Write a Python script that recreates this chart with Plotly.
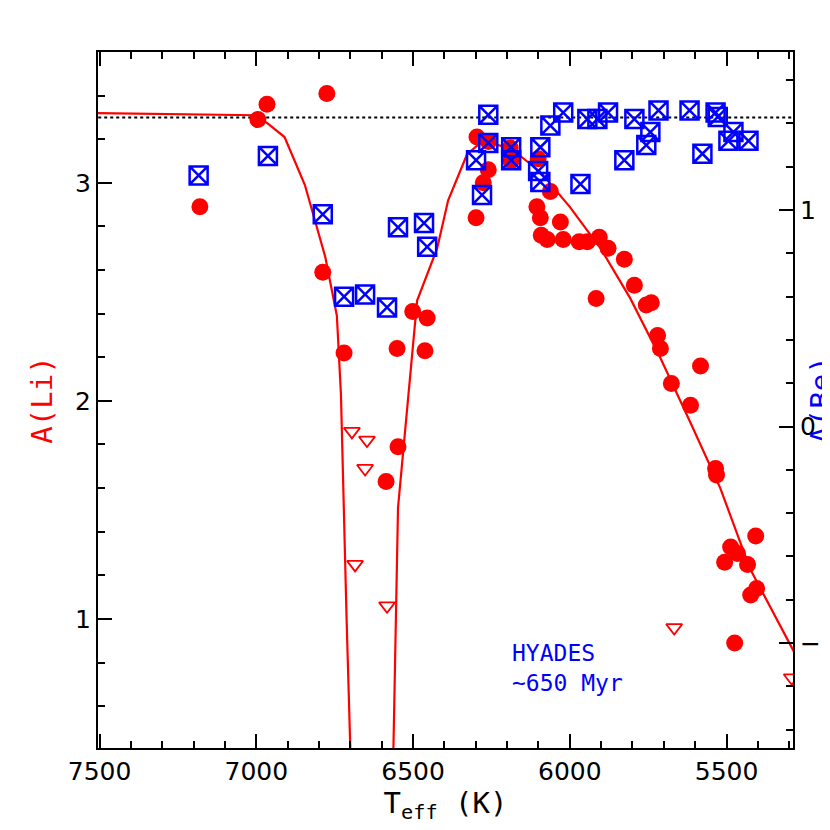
import plotly.graph_objects as go

li_t = [7180,6995,6966,6775,6788,6720,6551,6501,6455,6462,6548,6586,
        6296,6260,6299,6276,6260,6190,6187,6101,6105,6094,6091,6072,6062,6030,6021,
        5970,5944,5906,5878,5916,5826,5794,5756,5740,5720,5711,5676,5583,5615,
        5535,5532,5506,5487,5465,5433,5407,5423,5404,5474]
li_a = [2.89,3.29,3.36,3.41,2.59,2.22,2.24,2.41,2.38,2.23,1.79,1.63,
        3.21,3.19,2.84,3.00,3.06,3.16,3.10,3.11,2.89,2.84,2.76,2.74,2.96,2.82,2.74,
        2.73,2.73,2.75,2.70,2.47,2.65,2.53,2.44,2.45,2.30,2.24,2.08,2.16,1.98,
        1.69,1.66,1.26,1.33,1.30,1.25,1.38,1.11,1.14,0.89]
lim_t = [6695,6647,6653,6685,6583,5667,5292]
lim_a = [1.86,1.82,1.69,1.25,1.06,0.96,0.73]
be_t = [7184,6963,6788,6720,6653,6583,6548,6465,6455,6299,6280,6260,6260,6187,6187,
        6094,6101,6094,6062,6021,5966,5944,5912,5878,5826,5794,5756,5743,5717,5618,
        5577,5535,5528,5494,5478,5430]
be_a = [1.16,1.25,0.98,0.60,0.61,0.55,0.92,0.94,0.83,1.23,1.07,1.44,1.31,1.29,1.23,
        1.29,1.18,1.13,1.39,1.45,1.12,1.42,1.42,1.45,1.23,1.42,1.30,1.36,1.46,1.46,
        1.26,1.45,1.43,1.32,1.36,1.32]
mod_t = [7520,7000,6962,6910,6845,6780,6743,6730,6712,6698,6695,
         6566,6564,6548,6487,6423,6388,6328,6312,6280,6190,6094,6000,5902,5807,5712,5615,5520,5425,5285]
mod_a = [3.32,3.31,3.27,3.21,2.99,2.66,2.39,2.03,1.0,0.3,-1.0,
         -1.0,0.3,1.51,2.46,2.70,2.92,3.13,3.15,3.19,3.16,3.05,2.89,2.70,2.47,2.20,1.90,1.60,1.23,0.85]
ref_li = 3.30

fig = go.Figure()
fig.add_trace(go.Scatter(x=[7600, 5200], y=[ref_li, ref_li], mode="lines",
                         line=dict(color="black", width=2, dash="dot")))
fig.add_trace(go.Scatter(x=mod_t, y=mod_a, mode="lines", line=dict(color="red", width=2.2)))
fig.add_trace(go.Scatter(x=li_t, y=li_a, mode="markers",
                         marker=dict(symbol="circle", size=17, color="red")))
fig.add_trace(go.Scatter(x=lim_t, y=lim_a, mode="markers",
                         marker=dict(symbol="triangle-down-open", size=14, color="red",
                                     line=dict(width=1.8))))
fig.add_trace(go.Scatter(x=be_t, y=be_a, mode="markers", yaxis="y2",
                         marker=dict(symbol="square-x-open", size=18, color="blue",
                                     line=dict(width=2.5))))

tickfont = dict(family="DejaVu Sans", size=25, color="black")
common = dict(showgrid=False, zeroline=False, showline=True, linecolor="black", linewidth=2,
              ticks="inside", ticklen=14, tickwidth=2, tickcolor="black", tickfont=tickfont,
              automargin=False)
def minor(d):
    return dict(ticks="inside", ticklen=7, tickwidth=1.5, dtick=d, tickcolor="black")

fig.update_layout(
    width=830, height=830, showlegend=False,
    plot_bgcolor="white", paper_bgcolor="white",
    margin=dict(l=90, r=45, t=44, b=90),
    xaxis=dict(range=[7505, 5288], tickvals=[7500, 7000, 6500, 6000, 5500], mirror="ticks",
               minor=minor(100),
               title=dict(text="T<sub>eff</sub> (K)", font=dict(family="DejaVu Sans Mono", size=29, color="black"), standoff=2),
               **common),
    yaxis=dict(range=[0.408, 3.60], tickvals=[1, 2, 3], minor=minor(0.2),
               title=dict(text="A(Li)", font=dict(family="DejaVu Sans Mono", size=29, color="red"), standoff=14),
               **common),
    yaxis2=dict(overlaying="y", side="right", range=[-1.485, 1.73], tickvals=[-1, 0, 1],
                ticktext=["−1", "0", "1"], minor=minor(0.2),
                title=dict(text="A(Be)", font=dict(family="DejaVu Sans Mono", size=29, color="blue"), standoff=2),
                **common),
    annotations=[dict(x=6190, y=0.775, xref="x", yref="y", xanchor="left", yanchor="middle",
                      text="HYADES<br>~650 Myr", showarrow=False, align="left",
                      font=dict(family="DejaVu Sans Mono", size=23, color="blue"))],
)
fig.write_html("out.html")
